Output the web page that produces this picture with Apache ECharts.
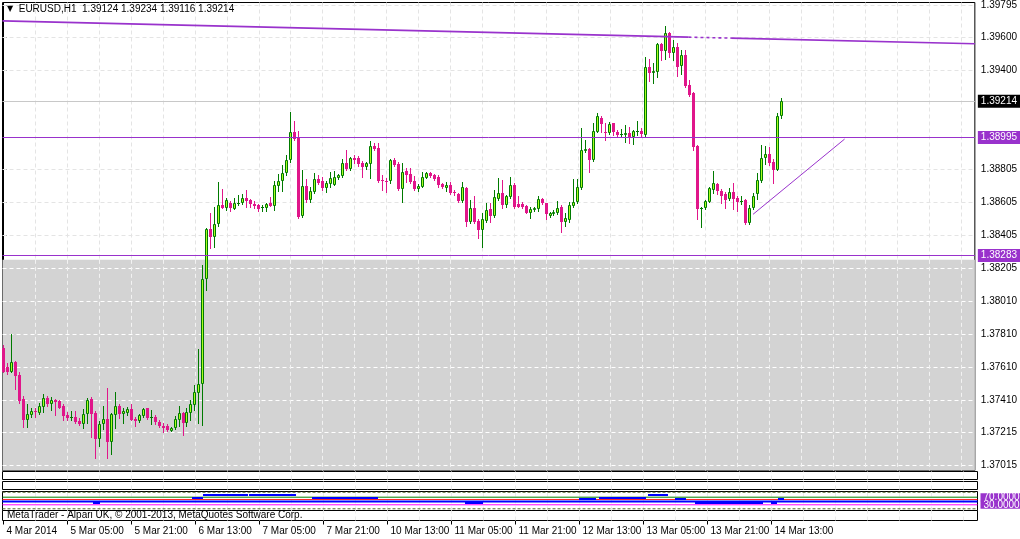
<!DOCTYPE html>
<html><head><meta charset="utf-8">
<script src="https://cdn.jsdelivr.net/npm/echarts@6/dist/echarts.min.js"></script>
<style>html,body{margin:0;padding:0;background:#fff}#c{width:1020px;height:539px}</style>
</head><body><div id="c"></div>
<script>
// ---------------- DATA ----------------
const symbolName = 'EURUSD,H1';
// hourly candles [open, high, low, close], bar 0 = 4 Mar 2014 13:00
const candles = [
[1.37726,1.37744,1.37581,1.37581],[1.37611,1.37637,1.37567,1.37583],[1.37583,1.37810,1.37578,1.37641],[1.37641,1.37647,1.37478,1.37559],
[1.37563,1.37583,1.37396,1.37406],[1.37418,1.37438,1.37251,1.37293],[1.37293,1.37388,1.37251,1.37326],[1.37323,1.37364,1.37311,1.37346],
[1.37347,1.37366,1.37308,1.37341],[1.37335,1.37392,1.37328,1.37374],[1.37372,1.37448,1.37340,1.37422],[1.37422,1.37434,1.37376,1.37390],
[1.37390,1.37428,1.37352,1.37412],[1.37412,1.37418,1.37323,1.37402],[1.37404,1.37412,1.37362,1.37366],[1.37378,1.37388,1.37291,1.37317],
[1.37320,1.37340,1.37291,1.37303],[1.37303,1.37346,1.37291,1.37308],[1.37309,1.37346,1.37271,1.37277],[1.37285,1.37303,1.37259,1.37267],
[1.37265,1.37358,1.37241,1.37326],[1.37326,1.37424,1.37275,1.37412],[1.37418,1.37428,1.37191,1.37329],[1.37334,1.37347,1.37064,1.37179],
[1.37179,1.37287,1.37136,1.37267],[1.37269,1.37376,1.37235,1.37297],[1.37297,1.37483,1.37064,1.37155],[1.37155,1.37332,1.37086,1.37326],
[1.37320,1.37462,1.37245,1.37376],[1.37376,1.37388,1.37305,1.37329],[1.37326,1.37366,1.37275,1.37346],[1.37334,1.37368,1.37320,1.37358],
[1.37358,1.37388,1.37291,1.37293],[1.37299,1.37311,1.37257,1.37287],[1.37287,1.37328,1.37277,1.37322],[1.37316,1.37362,1.37308,1.37358],
[1.37364,1.37364,1.37299,1.37305],[1.37308,1.37352,1.37267,1.37308],[1.37309,1.37320,1.37267,1.37277],[1.37279,1.37293,1.37247,1.37253],
[1.37255,1.37272,1.37221,1.37243],[1.37255,1.37269,1.37225,1.37231],[1.37227,1.37247,1.37223,1.37243],[1.37241,1.37316,1.37237,1.37297],
[1.37293,1.37374,1.37255,1.37332],[1.37332,1.37338,1.37201,1.37275],[1.37275,1.37362,1.37255,1.37338],[1.37335,1.37412,1.37290,1.37388],
[1.37384,1.37503,1.37352,1.37460],[1.37456,1.37718,1.37272,1.37507],[1.37507,1.38226,1.37261,1.38142],[1.38142,1.38449,1.38075,1.38441],
[1.38441,1.38538,1.38327,1.38397],[1.38397,1.38576,1.38336,1.38472],[1.38472,1.38725,1.38461,1.38586],[1.38586,1.38683,1.38570,1.38573],
[1.38573,1.38628,1.38558,1.38621],[1.38598,1.38612,1.38552,1.38568],[1.38567,1.38630,1.38561,1.38600],[1.38592,1.38648,1.38588,1.38600],
[1.38598,1.38652,1.38592,1.38628],[1.38630,1.38678,1.38578,1.38614],[1.38618,1.38622,1.38576,1.38592],[1.38596,1.38612,1.38570,1.38582],
[1.38588,1.38594,1.38552,1.38566],[1.38570,1.38586,1.38553,1.38576],[1.38572,1.38602,1.38553,1.38594],[1.38600,1.38634,1.38582,1.38584],
[1.38584,1.38733,1.38558,1.38707],[1.38704,1.38775,1.38674,1.38733],[1.38733,1.38829,1.38674,1.38779],[1.38779,1.38889,1.38769,1.38859],
[1.38857,1.39147,1.38847,1.39026],[1.39026,1.39094,1.38980,1.38986],[1.38996,1.39034,1.38509,1.38517],[1.38522,1.38799,1.38515,1.38702],
[1.38702,1.38745,1.38606,1.38618],[1.38618,1.38695,1.38606,1.38674],[1.38668,1.38779,1.38660,1.38745],[1.38745,1.38769,1.38714,1.38722],
[1.38733,1.38755,1.38678,1.38689],[1.38692,1.38733,1.38664,1.38719],[1.38714,1.38785,1.38695,1.38749],[1.38710,1.38793,1.38708,1.38757],
[1.38751,1.38775,1.38743,1.38767],[1.38765,1.38863,1.38757,1.38841],[1.38841,1.38920,1.38799,1.38805],[1.38805,1.38876,1.38799,1.38870],
[1.38871,1.38889,1.38839,1.38861],[1.38871,1.38883,1.38823,1.38835],[1.38843,1.38853,1.38758,1.38815],[1.38815,1.38849,1.38805,1.38841],
[1.38833,1.38974,1.38752,1.38944],[1.38944,1.38960,1.38920,1.38927],[1.38930,1.38960,1.38727,1.38733],[1.38740,1.38769,1.38678,1.38734],
[1.38733,1.38751,1.38666,1.38728],[1.38733,1.38863,1.38721,1.38859],[1.38859,1.38869,1.38823,1.38829],[1.38835,1.38847,1.38678,1.38683],
[1.38684,1.38841,1.38608,1.38787],[1.38791,1.38813,1.38728,1.38769],[1.38775,1.38813,1.38721,1.38728],[1.38733,1.38763,1.38678,1.38684],
[1.38684,1.38713,1.38674,1.38702],[1.38698,1.38785,1.38696,1.38755],[1.38752,1.38789,1.38751,1.38779],[1.38779,1.38787,1.38757,1.38763],
[1.38767,1.38775,1.38739,1.38745],[1.38757,1.38769,1.38698,1.38708],[1.38714,1.38721,1.38690,1.38698],[1.38692,1.38725,1.38674,1.38708],
[1.38708,1.38728,1.38654,1.38658],[1.38668,1.38678,1.38651,1.38658],[1.38654,1.38660,1.38606,1.38612],[1.38612,1.38728,1.38606,1.38695],
[1.38689,1.38696,1.38461,1.38487],[1.38487,1.38618,1.38482,1.38568],[1.38568,1.38642,1.38482,1.38487],[1.38491,1.38503,1.38391,1.38437],
[1.38437,1.38538,1.38333,1.38502],[1.38493,1.38598,1.38488,1.38558],[1.38562,1.38600,1.38487,1.38522],[1.38522,1.38678,1.38515,1.38636],
[1.38624,1.38749,1.38618,1.38662],[1.38662,1.38737,1.38570,1.38588],[1.38588,1.38648,1.38578,1.38642],[1.38638,1.38758,1.38633,1.38708],
[1.38708,1.38719,1.38573,1.38578],[1.38592,1.38642,1.38576,1.38578],[1.38594,1.38608,1.38570,1.38574],[1.38582,1.38588,1.38537,1.38541],
[1.38541,1.38574,1.38511,1.38564],[1.38558,1.38578,1.38552,1.38570],[1.38566,1.38644,1.38552,1.38622],[1.38622,1.38630,1.38594,1.38598],
[1.38598,1.38603,1.38505,1.38532],[1.38523,1.38547,1.38515,1.38540],[1.38534,1.38555,1.38528,1.38547],[1.38540,1.38612,1.38534,1.38570],
[1.38574,1.38588,1.38427,1.38487],[1.38487,1.38538,1.38461,1.38509],[1.38499,1.38608,1.38485,1.38588],[1.38584,1.38743,1.38579,1.38608],
[1.38608,1.38743,1.38600,1.38695],[1.38689,1.39050,1.38684,1.38920],[1.38915,1.38980,1.38909,1.38926],[1.38926,1.38932,1.38789,1.38859],
[1.38859,1.39080,1.38853,1.39034],[1.39030,1.39143,1.39028,1.39125],[1.39113,1.39125,1.39028,1.39076],[1.39028,1.39080,1.38980,1.39022],
[1.39020,1.39088,1.39014,1.39076],[1.39080,1.39082,1.39010,1.39030],[1.39026,1.39040,1.39004,1.39010],[1.39010,1.39048,1.39000,1.39016],
[1.39012,1.39072,1.38970,1.39020],[1.39024,1.39060,1.38960,1.38996],[1.39000,1.39040,1.38956,1.39034],[1.39026,1.39094,1.39010,1.39034],
[1.39034,1.39050,1.39000,1.39018],[1.39010,1.39482,1.39007,1.39418],[1.39420,1.39470,1.39337,1.39384],[1.39384,1.39444,1.39323,1.39397],
[1.39393,1.39564,1.39359,1.39560],[1.39560,1.39563,1.39464,1.39520],[1.39520,1.39668,1.39468,1.39625],[1.39625,1.39631,1.39484,1.39508],
[1.39508,1.39584,1.39464,1.39540],[1.39540,1.39564,1.39367,1.39423],[1.39429,1.39524,1.39379,1.39494],[1.39494,1.39524,1.39303,1.39308],
[1.39313,1.39343,1.39247,1.39252],[1.39263,1.39271,1.38920,1.38936],[1.38944,1.38950,1.38503,1.38564],[1.38566,1.38578,1.38453,1.38572],
[1.38572,1.38618,1.38566,1.38612],[1.38608,1.38698,1.38606,1.38689],[1.38678,1.38791,1.38658,1.38719],[1.38714,1.38721,1.38654,1.38674],
[1.38672,1.38684,1.38602,1.38644],[1.38654,1.38668,1.38568,1.38618],[1.38624,1.38689,1.38618,1.38668],[1.38664,1.38719,1.38566,1.38624],
[1.38632,1.38642,1.38553,1.38608],[1.38610,1.38644,1.38594,1.38614],[1.38618,1.38624,1.38471,1.38481],[1.38481,1.38588,1.38476,1.38570],
[1.38568,1.38658,1.38564,1.38642],[1.38652,1.38779,1.38622,1.38739],[1.38733,1.38950,1.38727,1.38869],[1.38869,1.38944,1.38835,1.38894],
[1.38894,1.38939,1.38829,1.38839],[1.38847,1.38865,1.38722,1.38801],[1.38802,1.39141,1.38799,1.39128],[1.39124,1.39234,1.39116,1.39214]
];
const timeTickBars = [0,16,32,48,64,80,96,112,128,144,160,176,192];
const timeTickLabels = ['4 Mar 2014','5 Mar 05:00','5 Mar 21:00','6 Mar 13:00','7 Mar 05:00','7 Mar 21:00',
  '10 Mar 13:00','11 Mar 05:00','11 Mar 21:00','12 Mar 13:00','13 Mar 05:00','13 Mar 21:00','14 Mar 13:00'];
const priceTicks = [1.39795,1.39600,1.39400,1.38805,1.38605,1.38405,1.38205,1.38010,1.37810,1.37610,1.37410,1.37215,1.37015];
const levelLines = [1.38995, 1.38283];             // horizontal objects
const greyZoneTop = 1.38257;                        // rectangle object top
const upperTrend = [[-0.25,1.39699],[171.7,1.39601],[182.4,1.39595],[243.5,1.39561]];
const upperTrendDashed = [false, true, false];
const lowerTrend = [[187.9,1.38532],[210.85,1.38986]];
// oscillator sub-window
const oscLevels = [
  {v:96, kind:'dash'}, {v:9, kind:'dash'}, {v:70, kind:'green'}, {v:58, kind:'red'},
  {v:48, kind:'blue'}, {v:30, kind:'magenta'}
];
const oscLabels = [70, 30];
const oscSegments = [
  [22.4,24.1,39.5],[47.1,49.9,64],[49.9,61.1,84],[61.4,68.1,79],[68.1,73.1,84],[77.1,93.6,64],
  [115.4,119.9,39.5],[143.9,148.1,63],[148.9,160.6,64],[161.1,166.1,84],[167.9,170.6,63],
  [172.9,188.1,39.5],[187.9,189.9,37],[191.9,193.4,37],[193.6,195.1,63]
];
const copyright = 'MetaTrader - Alpari UK, © 2001-2013, MetaQuotes Software Corp.';

// ---------------- LAYOUT / STYLE ----------------
const X_MIN = -0.25, X_MAX = 243.5;
const Y_MIN = 1.36986, Y_MAX = 1.39810;
const FONT = "'Liberation Sans',Arial,sans-serif";
const FS = 10;
const PURPLE = '#9932cc';
const BULL_FILL = '#a8ff1e', BULL_LINE = '#007a00', BEAR = '#e0168a';
const GRID_GREY = '#e4e4e4';

const last = candles[candles.length - 1];
const bid = last[3];

const gridBase = {left: 2.5, width: 975, show: true, borderColor: '#000', borderWidth: 1, backgroundColor: '#fff'};
const grids = [
  Object.assign({top: 2.5, height: 468}, gridBase),
  Object.assign({top: 471.5, height: 8}, gridBase),
  Object.assign({top: 481.5, height: 8}, gridBase),
  Object.assign({top: 491.5, height: 19}, gridBase),
  Object.assign({top: 510.5, height: 10}, gridBase)
];

const xAxes = grids.map((g, k) => ({
  type: 'value', gridIndex: k, min: X_MIN, max: X_MAX, position: 'bottom',
  axisLine: {show: false}, splitLine: {show: false},
  axisTick: k === 4 ? {show: true, customValues: timeTickBars, length: 4, lineStyle: {color: '#000'}} : {show: false},
  axisLabel: k === 4 ? {
    show: true, customValues: timeTickBars, margin: 6, align: 'left', padding: [0, 0, 0, 3],
    color: '#000', fontSize: FS, fontFamily: FONT,
    formatter: v => { const j = timeTickBars.indexOf(Math.round(v)); return j >= 0 ? timeTickLabels[j] : ''; }
  } : {show: false}
}));
const yAxes = [
  {type: 'value', gridIndex: 0, min: Y_MIN, max: Y_MAX, position: 'right',
   axisLine: {show: true, lineStyle: {color: '#000'}},
   axisTick: {show: true, customValues: priceTicks, length: 3, lineStyle: {color: '#000'}},
   axisLabel: {show: true, customValues: priceTicks, margin: 6, color: '#000', fontSize: FS, fontFamily: FONT,
     formatter: v => v.toFixed(5)},
   splitLine: {show: false}},
  {type: 'value', gridIndex: 1, min: 0, max: 1, show: false, splitLine: {show: false}},
  {type: 'value', gridIndex: 2, min: 0, max: 1, show: false, splitLine: {show: false}},
  {type: 'value', gridIndex: 3, min: 0, max: 100, show: false, splitLine: {show: false}},
  {type: 'value', gridIndex: 4, min: 0, max: 1, show: false, splitLine: {show: false}}
];

const vBars = [];
for (let b = 8; b < X_MAX; b += 8) vBars.push(b);

// main grid lines
const mainGridLines = [];
priceTicks.forEach(v => {
  mainGridLines.push({yAxis: v, lineStyle: {color: v < greyZoneTop ? '#ffffff' : GRID_GREY, type: [4, 3], width: 1}});
});
vBars.forEach(b => {
  mainGridLines.push([{coord: [b, Y_MAX], lineStyle: {color: GRID_GREY, type: [4, 3], width: 1}}, {coord: [b, greyZoneTop]}]);
  mainGridLines.push([{coord: [b, greyZoneTop], lineStyle: {color: '#f2f2f2', type: [4, 3], width: 1}}, {coord: [b, Y_MIN]}]);
});

function candleItem(params, api) {
  const i = api.value(0), o = api.value(1), h = api.value(2), l = api.value(3), c = api.value(4);
  const pO = api.coord([i, o]), pC = api.coord([i, c]), pH = api.coord([i, h]), pL = api.coord([i, l]);
  const cx = Math.floor(pO[0]) + 0.5;
  const bull = c >= o;
  const yTop = Math.round(Math.min(pO[1], pC[1])), yBot = Math.round(Math.max(pO[1], pC[1]));
  const yH = Math.round(pH[1]), yL = Math.round(pL[1]);
  const ch = [{type: 'line', shape: {x1: cx, y1: yH, x2: cx, y2: yL + 1},
    style: {stroke: bull ? BULL_LINE : BEAR, lineWidth: 1}}];
  if (bull) {
    if (yBot - yTop >= 2) {
      ch.push({type: 'rect', shape: {x: cx - 1, y: yTop + 0.5, width: 2, height: yBot - yTop - 1},
        style: {fill: BULL_FILL, stroke: BULL_LINE, lineWidth: 1}});
    } else {
      ch.push({type: 'rect', shape: {x: cx - 1.5, y: yTop, width: 3, height: Math.max(1, yBot - yTop)},
        style: {fill: BULL_LINE}});
    }
  } else {
    ch.push({type: 'rect', shape: {x: cx - 1.5, y: yTop, width: 3, height: Math.max(1, yBot - yTop)},
      style: {fill: BEAR}});
  }
  return {type: 'group', children: ch};
}

function segItem(params, api) {
  const a = api.coord([api.value(0), api.value(2)]), b = api.coord([api.value(1), api.value(2)]);
  const y = Math.round(a[1]);
  return {type: 'line', shape: {x1: Math.round(a[0]), y1: y, x2: Math.round(b[0]), y2: y},
    style: {stroke: '#0000ff', lineWidth: 2}};
}

const boxLabel = (bg) => ({show: true, position: 'end', distance: 3, color: '#fff', backgroundColor: bg,
  fontSize: FS, fontFamily: FONT, lineHeight: 11, padding: [1, 10, 1, 3]});

const levelStyles = {
  dash: {color: '#556b2f', type: [3, 2], width: 1},
  green: {color: '#008000', type: 'solid', width: 1},
  red: {color: '#ff2020', type: 'solid', width: 1},
  blue: {color: '#0000ff', type: 'solid', width: 2},
  magenta: {color: '#ff00ff', type: 'solid', width: 1}
};
const ML = {silent: true, symbol: 'none', precision: 8, animation: false};

const series = [
  {type: 'line', xAxisIndex: 0, yAxisIndex: 0, data: [], silent: true,
   markArea: {silent: true, z: 1, itemStyle: {color: '#d3d3d3'}, data: [[{yAxis: greyZoneTop}, {yAxis: Y_MIN}]]}},
  {type: 'line', xAxisIndex: 0, yAxisIndex: 0, data: [], silent: true,
   markLine: Object.assign({z: 2, label: {show: false}, data: mainGridLines}, ML)},
  {type: 'line', xAxisIndex: 0, yAxisIndex: 0, data: [], silent: true,
   markLine: Object.assign({z: 3,
     data: [{yAxis: bid, lineStyle: {color: '#c8c8c8', type: 'solid', width: 1},
             label: Object.assign(boxLabel('#000'), {formatter: bid.toFixed(5)})}]}, ML)},
  {type: 'custom', name: 'candles', xAxisIndex: 0, yAxisIndex: 0, z: 10, clip: true, silent: true,
   renderItem: candleItem, encode: {x: 0, y: [1, 2, 3, 4]},
   data: candles.map((c, i) => [i, c[0], c[1], c[2], c[3]])},
  {type: 'line', xAxisIndex: 0, yAxisIndex: 0, data: [], silent: true,
   markLine: Object.assign({z: 12,
     data: levelLines.map(v => ({yAxis: v, lineStyle: {color: PURPLE, type: 'solid', width: 1},
       label: Object.assign(boxLabel(PURPLE), {formatter: v.toFixed(5)})}))
       .concat(upperTrend.slice(0, -1).map((p, k) => [
         {coord: p, lineStyle: {color: PURPLE, width: 1.6, type: upperTrendDashed[k] ? [3, 3] : 'solid'}, label: {show: false}},
         {coord: upperTrend[k + 1]}]))}, ML)},
  {type: 'line', xAxisIndex: 0, yAxisIndex: 0, z: 12, silent: true, showSymbol: false, animation: false,
   data: lowerTrend, lineStyle: {color: PURPLE, width: 1}},
];
// sub-window grid lines
[1, 2, 3, 4].forEach(k => {
  series.push({type: 'line', xAxisIndex: k, yAxisIndex: k, data: [], silent: true,
    markLine: Object.assign({z: 2, label: {show: false},
      data: vBars.map(b => ({xAxis: b, lineStyle: {color: '#ececec', type: [4, 3], width: 1}}))}, ML)});
});
// oscillator level lines
oscLevels.forEach(L => {
  series.push({type: 'line', xAxisIndex: 3, yAxisIndex: 3, z: 4, silent: true, showSymbol: false,
    animation: false, clip: true, data: [[X_MIN, L.v], [X_MAX, L.v]],
    lineStyle: levelStyles[L.kind]});
});
series.push({type: 'line', xAxisIndex: 3, yAxisIndex: 3, data: [], silent: true,
  markLine: Object.assign({z: 6,
    data: oscLabels.map(v => ({yAxis: v, lineStyle: {color: 'rgba(0,0,0,0)', width: 1},
        label: Object.assign(boxLabel(PURPLE), {formatter: v.toFixed(5), lineHeight: 8, padding: [0, 10, 0, 3]})}))}, ML)});
series.push({type: 'custom', xAxisIndex: 3, yAxisIndex: 3, z: 5, clip: true, silent: true,
  renderItem: segItem, encode: {x: [0, 1], y: 2}, data: oscSegments});

const option = {
  animation: false,
  backgroundColor: '#fff',
  title: [
    {left: 7, top: 4, padding: 0, text: '{tri|▼}  ' + symbolName + '  ' + last.map(v => v.toFixed(5)).join(' '),
     textStyle: {color: '#000', fontSize: FS, fontWeight: 'normal', fontFamily: FONT,
       rich: {tri: {fontSize: 8, fontFamily: 'DejaVu Sans', color: '#000'}}}},
    {left: 7, top: 510, padding: 0, text: copyright,
     textStyle: {color: '#000', fontSize: FS, fontWeight: 'normal', fontFamily: FONT}}
  ],
  grid: grids, xAxis: xAxes, yAxis: yAxes, series: series
};
const chart = echarts.init(document.getElementById('c'), null, {renderer: 'canvas'});
chart.setOption(option);
</script></body></html>
